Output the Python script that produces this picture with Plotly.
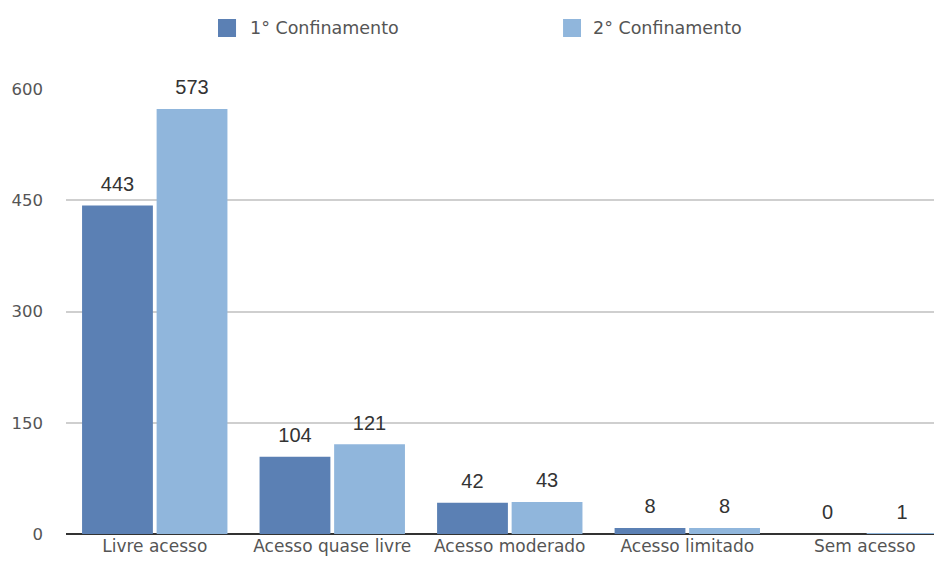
import plotly.graph_objects as go

categories = ["Livre acesso", "Acesso quase livre", "Acesso moderado", "Acesso limitado", "Sem acesso"]
series_names = ["1° Confinamento", "2° Confinamento"]
conf1 = [443, 104, 42, 8, 0]
conf2 = [573, 121, 43, 8, 1]
y_ticks = [0, 150, 300, 450, 600]

colors = ["#5b80b4", "#90b6dc"]

fig = go.Figure()
for name, vals, col in zip(series_names, [conf1, conf2], colors):
    fig.add_trace(go.Bar(
        x=categories, y=vals, name=name,
        marker=dict(color=col, line=dict(width=0)),
        showlegend=False, hoverinfo="x+y+name",
    ))
# value labels, grouped like the bars
for name, vals in zip(series_names, [conf1, conf2]):
    fig.add_trace(go.Scatter(
        x=categories, y=vals, mode="markers+text", text=vals,
        textposition="top center", cliponaxis=False,
        marker=dict(size=14, color="rgba(0,0,0,0)"),
        textfont=dict(size=20, color="#333333", family="Liberation Sans"),
        showlegend=False, hoverinfo="skip",
    ))

# manual legend (larger squares like the reference)
leg_sq = [(0.1735, 0.1941), (0.5674, 0.5879)]
leg_tx = [0.2078, 0.5993]
for (x0, x1), tx, name, col in zip(leg_sq, leg_tx, series_names, colors):
    fig.add_shape(type="rect", xref="paper", yref="paper", x0=x0, x1=x1,
                  y0=1.1169, y1=1.1573, fillcolor=col, line=dict(width=0))
    fig.add_annotation(xref="paper", yref="paper", x=tx, y=1.1371, text=name,
                       showarrow=False, xanchor="left", yanchor="middle",
                       font=dict(size=17.5, color="#555555", family="DejaVu Sans"))

fig.update_layout(
    width=942, height=570,
    margin=dict(l=58, r=8, t=81, b=44),
    paper_bgcolor="white", plot_bgcolor="white",
    barmode="group", bargap=0.16, bargroupgap=0.05,
    scattermode="group", scattergap=0.16,
    font=dict(family="DejaVu Sans", color="#555555", size=15),
    showlegend=False,
    xaxis=dict(range=[-0.5, 4.435], showgrid=False, ticks="", showline=False,
               automargin=False,
               tickfont=dict(size=17, color="#555555", family="DejaVu Sans")),
    yaxis=dict(range=[0, 600], tickvals=y_ticks, showgrid=True, gridcolor="#cfcfcf",
               gridwidth=2, zeroline=True, zerolinecolor="#333333", zerolinewidth=2,
               ticks="", ticklabelstandoff=22, automargin=False,
               tickfont=dict(size=16.5, color="#555555", family="DejaVu Sans")),
)

fig.write_html("out.html")
